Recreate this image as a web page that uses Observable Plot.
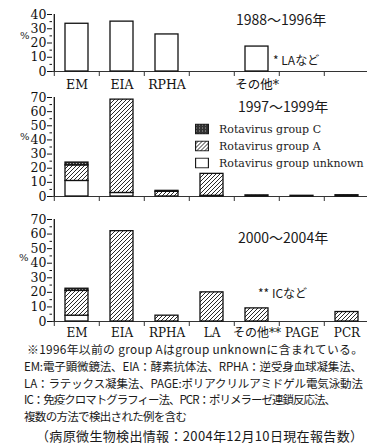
<!DOCTYPE html>
<html>
<head>
<meta charset="utf-8">
<script src="https://cdn.jsdelivr.net/npm/d3@7"></script>
<script src="https://cdn.jsdelivr.net/npm/@observablehq/plot@0.6"></script>
<style>
  body { margin: 0; background: #fff; }
  #fig { position: relative; width: 367px; height: 446px; overflow: hidden; background: #fff; color: #111; }
  #fig svg.panel { position: absolute; left: 0; }
  .ann { position: absolute; white-space: nowrap; line-height: 1; transform: translateY(-50%); color: #1a1a1a; }
  .jp { font-family: "Noto Sans CJK JP", sans-serif; }
  .serif { font-family: "DejaVu Serif", serif; }
  .legend-row { position: absolute; display: flex; align-items: center; transform: translateY(-50%);
                font-family: "DejaVu Serif", serif; font-size: 11px; white-space: nowrap; color: #1a1a1a; }
  .legend-row svg { margin-right: 10px; }
</style>
</head>
<body>
<svg width="0" height="0" style="position:absolute">
  <defs>
    <pattern id="hatchA" patternUnits="userSpaceOnUse" width="4" height="4">
      <rect width="4" height="4" fill="#fff"/>
      <path d="M-1,1 l2,-2 M0,4 l4,-4 M3,5 l2,-2" stroke="#111" stroke-width="0.9"/>
    </pattern>
    <pattern id="darkC" patternUnits="userSpaceOnUse" width="3" height="3">
      <rect width="3" height="3" fill="#333"/>
      <rect x="1" y="1" width="1" height="1" fill="#aaa"/>
    </pattern>
  </defs>
</svg>
<div id="fig"></div>
<script>
// Detection methods along the x axis (shared by all three periods)
const methods = ["EM", "EIA", "RPHA", "LA", "その他", "PAGE", "PCR"];

// 1988–1996 (% of reports); group A was still counted as group unknown
const p1Unknown = [33.5, 35, 26, 0, 17.5, 0, 0];

// 1997–1999
const p2Unknown = [11, 2.5, 0, 0.5, 0, 0, 0];
const p2A       = [11, 66, 3.3, 15.5, 0.8, 0.5, 0.9];
const p2C       = [2, 0, 0.7, 0, 0, 0, 0];

// 2000–2004
const p3Unknown = [4, 0, 0, 0, 0, 0, 0];
const p3A       = [17, 62, 4, 20, 9, 0, 6.5];
const p3C       = [1.5, 0, 0, 0, 0, 0, 0];

// Tick labels per panel
const p1Labels = ["EM", "EIA", "RPHA", "", "その他*", "", ""];
const p2Labels = ["", "", "", "", "", "", ""];
const p3Labels = ["EM", "EIA", "RPHA", "LA", "その他**", "PAGE", "PCR"];

const groupFill = {unknown: "#fff", A: "url(#hatchA)", C: "url(#darkC)"};
const fig = document.getElementById("fig");

function panel({unknown, A = [], C = [], ymax, labels, top, height, marginTop, marginBottom, labelPadding, labelSize}) {
  const rows = [];
  methods.forEach((m, i) => {
    rows.push({method: m, group: "unknown", value: unknown[i] || 0});
    rows.push({method: m, group: "A", value: A[i] || 0});
    rows.push({method: m, group: "C", value: C[i] || 0});
  });
  const W = 367, ML = 52, MR = -3;
  const step = (W - MR - ML) / methods.length;
  const labelOf = d => labels[methods.indexOf(d)];
  const svg = Plot.plot({
    width: W, height, marginLeft: ML, marginRight: MR, marginTop, marginBottom,
    style: {background: "transparent", fontFamily: "'DejaVu Serif', 'Noto Sans CJK JP', serif", fontSize: "12px", color: "#111", overflow: "visible"},
    x: {domain: methods, padding: 0, label: null},
    y: {domain: [0, ymax], label: null},
    color: {type: "identity"},
    marks: [
      Plot.ruleY([0], {stroke: "#333", strokeWidth: 1}),
      Plot.barY(rows.filter(d => d.value > 0), {
        x: "method", y: "value", z: "group",
        fill: d => groupFill[d.group],
        stroke: "#111", strokeWidth: 1.3, insetLeft: 11, insetRight: 11
      }),
      Plot.ruleX(["EM"], {dx: -step / 2, y1: 0, y2: ymax, stroke: "#111", strokeWidth: 1.3}),
      Plot.axisY(d3.range(0, ymax + 1, 10), {tickSize: 5, tickPadding: 1, label: null, stroke: "#111", fontSize: 12.5}),
      Plot.axisY(d3.range(5, ymax, 10), {tickSize: 2.5, tickFormat: () => "", label: null, stroke: "#111"}),
      Plot.axisX({tickSize: 5, tickFormat: () => "", dx: -step / 2, label: null, stroke: "#333"}),
      Plot.axisX({tickSize: 0, tickPadding: labelPadding, tickFormat: labelOf, label: null, fontSize: labelSize})
    ]
  });
  svg.classList.add("panel");
  svg.style.top = top + "px";
  fig.appendChild(svg);
}

panel({unknown: p1Unknown, ymax: 40, labels: p1Labels, top: 0, height: 93, marginTop: 14, marginBottom: 22, labelPadding: 9, labelSize: 12.5});
panel({unknown: p2Unknown, A: p2A, C: p2C, ymax: 70, labels: p2Labels, top: 90, height: 116, marginTop: 7, marginBottom: 10, labelPadding: 8, labelSize: 12});
panel({unknown: p3Unknown, A: p3A, C: p3C, ymax: 70, labels: p3Labels, top: 210, height: 133, marginTop: 9, marginBottom: 22, labelPadding: 7, labelSize: 12});

function ann(text, x, y, size, cls) {
  const d = document.createElement("div");
  d.className = "ann " + cls;
  d.style.left = x + "px";
  d.style.top = y + "px";
  d.style.fontSize = size + "px";
  d.textContent = text;
  fig.appendChild(d);
}

// Period titles and footnote markers
ann("1988〜1996年", 236, 19, 14, "jp");
ann("1997〜1999年", 238, 106, 14, "jp");
ann("2000〜2004年", 238, 237, 14, "jp");
ann("* LAなど", 273, 60, 12, "jp");
ann("** ICなど", 258, 293, 12, "jp");
// unit labels
ann("%", 20, 36, 10, "serif");
ann("%", 20, 137, 10, "serif");
ann("%", 19, 258, 10, "serif");

// Legend
const legendItems = [
  {label: "Rotavirus group C", fill: groupFill.C, y: 129},
  {label: "Rotavirus group A", fill: groupFill.A, y: 146},
  {label: "Rotavirus group unknown", fill: groupFill.unknown, y: 163}
];
for (const it of legendItems) {
  const row = document.createElement("div");
  row.className = "legend-row";
  row.style.left = "195px";
  row.style.top = it.y + "px";
  row.innerHTML = `<svg width="14" height="11"><rect x="0.6" y="0.6" width="12.8" height="9.8" fill="${it.fill}" stroke="#111" stroke-width="1.1"/></svg><span>${it.label}</span>`;
  fig.appendChild(row);
}

// Notes under the chart
const notes = [
  {text: "※1996年以前の group Aはgroup unknownに含まれている。", x: 27, y: 354, w: 336, size: 11.8},
  {text: "EM:電子顕微鏡法、EIA：酵素抗体法、RPHA：逆受身血球凝集法、", x: 24, y: 370.5, w: 338, size: 11.5},
  {text: "LA：ラテックス凝集法、PAGE:ポリアクリルアミドゲル電気泳動法", x: 24, y: 387.5, w: 339, size: 11.5},
  {text: "IC：免疫クロマトグラフィー法、PCR：ポリメラーゼ連鎖反応法、", x: 24, y: 404, w: 312, size: 11.5},
  {text: "複数の方法で検出された例を含む", x: 24, y: 420.5, w: 163, size: 11.5},
  {text: "（病原微生物検出情報：2004年12月10日現在報告数）", x: 36, y: 441, w: 327, size: 13}
];
const ns = "http://www.w3.org/2000/svg";
const noteSvg = document.createElementNS(ns, "svg");
noteSvg.setAttribute("width", 367);
noteSvg.setAttribute("height", 446);
noteSvg.style.position = "absolute";
noteSvg.style.left = "0";
noteSvg.style.top = "0";
noteSvg.style.pointerEvents = "none";
for (const n of notes) {
  const t = document.createElementNS(ns, "text");
  t.setAttribute("x", n.x);
  t.setAttribute("y", n.y);
  t.setAttribute("textLength", n.w);
  t.setAttribute("lengthAdjust", "spacing");
  t.setAttribute("font-family", "Noto Sans CJK JP, sans-serif");
  t.setAttribute("font-size", n.size);
  t.setAttribute("fill", "#1a1a1a");
  t.textContent = n.text;
  noteSvg.appendChild(t);
}
fig.appendChild(noteSvg);
</script>
</body>
</html>
